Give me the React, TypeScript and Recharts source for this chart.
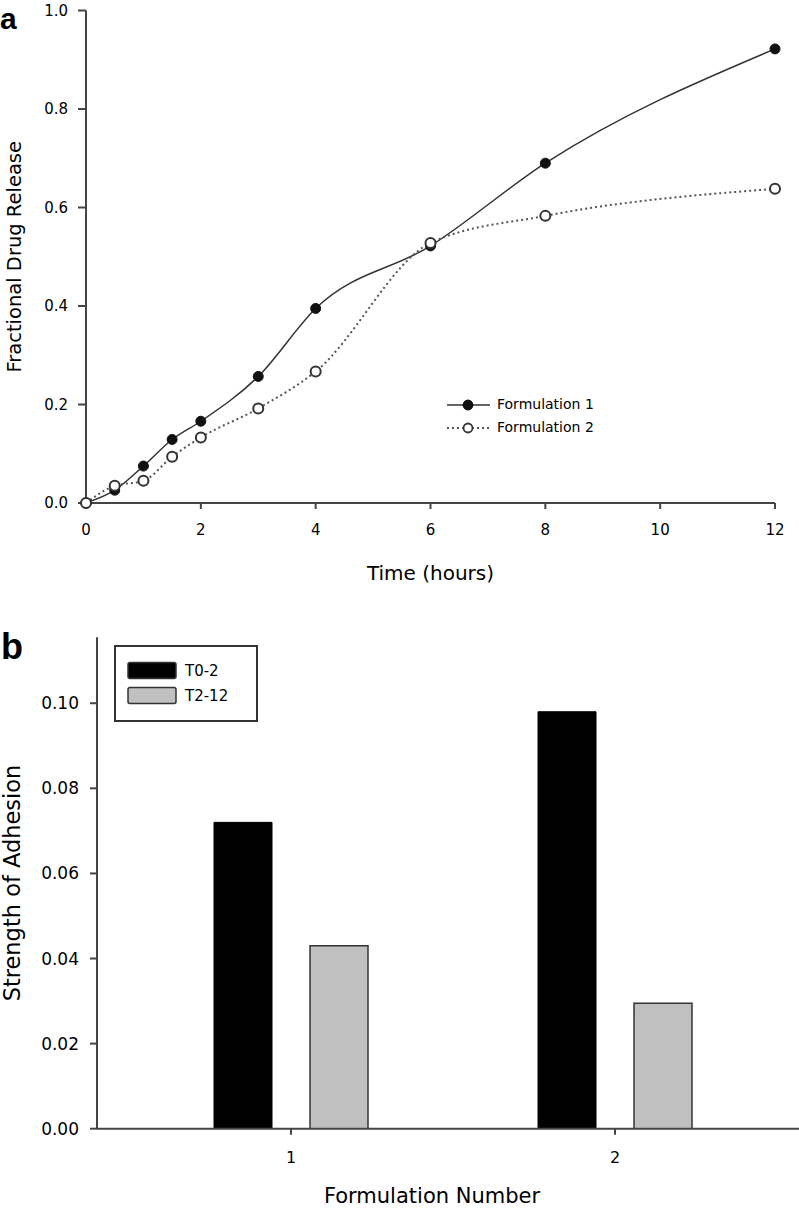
import React from 'react';
import { Bar, BarChart, Label, Legend, Line, LineChart, XAxis, YAxis } from 'recharts';

const FONT = '"DejaVu Sans", Verdana, sans-serif';
const LETTER_FONT = '"Liberation Sans", Arial, sans-serif';
const AXIS = '#444';

// panel a: fractional release vs time
const hours = [0, 0.5, 1, 1.5, 2, 3, 4, 6, 8, 12];
const formulation1 = [0, 0.026, 0.075, 0.129, 0.166, 0.257, 0.395, 0.522, 0.69, 0.922];
const formulation2 = [0, 0.035, 0.045, 0.094, 0.133, 0.192, 0.267, 0.528, 0.583, 0.638];
const releaseSeries = ['Formulation 1', 'Formulation 2'];
const hourTicks = [0, 2, 4, 6, 8, 10, 12];
const releaseTicks = [0, 0.2, 0.4, 0.6, 0.8, 1.0];

// panel b: strength of adhesion per formulation
const formulations = ['1', '2'];
const t02 = [0.072, 0.098];
const t212 = [0.043, 0.0295];
const adhesionSeries = ['T0-2', 'T2-12'];
const adhesionTicks = [0, 0.02, 0.04, 0.06, 0.08, 0.1];

const releaseData = hours.map((t, i) => ({ t, f1: formulation1[i], f2: formulation2[i] }));
const adhesionData = formulations.map((name, i) => ({ name, t02: t02[i], t212: t212[i] }));

function ReleaseLegend() {
  return (
    <svg width={180} height={50}>
      {releaseSeries.map((name, i) => {
        const y = 13 + i * 23;
        return (
          <g key={name}>
            <line
              x1={7}
              x2={50}
              y1={y}
              y2={y}
              stroke={i === 0 ? '#333' : '#555'}
              strokeWidth={i === 0 ? 1.5 : 2}
              strokeDasharray={i === 0 ? undefined : '2 3'}
            />
            <circle
              cx={28}
              cy={y}
              r={4.5}
              fill={i === 0 ? '#111' : '#fff'}
              stroke={i === 0 ? '#111' : '#333'}
              strokeWidth={1.8}
            />
            <text x={57} y={y} dominantBaseline="middle" fontSize={14} fontFamily={FONT} fill="#000">
              {name}
            </text>
          </g>
        );
      })}
    </svg>
  );
}

function AdhesionLegend() {
  return (
    <svg width={145} height={78}>
      <rect x={1} y={1} width={142} height={75} fill="#fff" stroke="#333" strokeWidth={2} />
      {adhesionSeries.map((name, i) => {
        const y = 17.5 + i * 25;
        return (
          <g key={name}>
            <rect
              x={14}
              y={y}
              width={48}
              height={16}
              rx={2}
              fill={i === 0 ? '#000' : '#c0c0c0'}
              stroke="#333"
              strokeWidth={1.5}
            />
            <text x={71} y={y + 8.5} dominantBaseline="middle" fontSize={15} fontFamily={FONT} fill="#000">
              {name}
            </text>
          </g>
        );
      })}
    </svg>
  );
}

const panelLetter: React.CSSProperties = {
  position: 'absolute',
  fontFamily: LETTER_FONT,
  fontWeight: 'bold',
  color: '#000',
  lineHeight: 1,
};

export default function App() {
  return (
    <div style={{ position: 'absolute', left: 0, top: 0, width: 799, height: 1208, background: '#fff', overflow: 'hidden' }}>
      <div style={{ ...panelLetter, left: 0, top: 4, fontSize: 30 }}>a</div>
      <div style={{ ...panelLetter, left: 1, top: 629, fontSize: 36 }}>b</div>

      <div style={{ position: 'absolute', left: 0, top: 0 }}>
        <LineChart width={799} height={600} data={releaseData} margin={{ top: 10.5, right: 24, left: 0, bottom: 0 }}>
          <XAxis
            type="number"
            dataKey="t"
            domain={[0, 12]}
            ticks={hourTicks}
            height={97}
            tickSize={6}
            tickMargin={15}
            axisLine={{ stroke: AXIS, strokeWidth: 2 }}
            tickLine={{ stroke: AXIS, strokeWidth: 2 }}
            tick={{ fill: '#000', fontSize: 15, fontFamily: FONT }}
          >
            <Label value="Time (hours)" position="center" dy={21} fill="#000" fontSize={20} fontFamily={FONT} />
          </XAxis>
          <YAxis
            type="number"
            domain={[0, 1]}
            ticks={releaseTicks}
            width={86}
            tickSize={8}
            tickMargin={10}
            tickFormatter={(v: number) => v.toFixed(1)}
            axisLine={{ stroke: AXIS, strokeWidth: 2 }}
            tickLine={{ stroke: AXIS, strokeWidth: 2 }}
            tick={{ fill: '#000', fontSize: 15, fontFamily: FONT }}
          >
            <Label
              value="Fractional Drug Release"
              position="center"
              angle={-90}
              dx={-29}
              fill="#000"
              fontSize={19.5}
              fontFamily={FONT}
            />
          </YAxis>
          <Legend
            layout="vertical"
            align="center"
            verticalAlign="middle"
            content={() => <ReleaseLegend />}
            wrapperStyle={{ position: 'absolute', left: 440, top: 392, width: 180, height: 50 }}
          />
          <Line
            type="monotone"
            dataKey="f1"
            name={releaseSeries[0]}
            stroke="#333"
            strokeWidth={1.5}
            dot={{ r: 5, fill: '#111', stroke: '#111', strokeWidth: 1 }}
            isAnimationActive={false}
          />
          <Line
            type="monotone"
            dataKey="f2"
            name={releaseSeries[1]}
            stroke="#555"
            strokeWidth={2}
            strokeDasharray="2 3"
            dot={{ r: 5, fill: '#fff', stroke: '#333', strokeWidth: 2, strokeDasharray: '0' }}
            isAnimationActive={false}
          />
        </LineChart>
      </div>

      <div style={{ position: 'absolute', left: 0, top: 600 }}>
        <BarChart
          width={799}
          height={608}
          data={adhesionData}
          margin={{ top: 37.3, right: 0, left: 0, bottom: 0 }}
          barSize={58}
          barGap={38}
        >
          <XAxis
            dataKey="name"
            padding={{ left: 32, right: 22 }}
            height={79.3}
            tickSize={6}
            tickMargin={17}
            axisLine={{ stroke: AXIS, strokeWidth: 2 }}
            tickLine={{ stroke: AXIS, strokeWidth: 2 }}
            tick={{ fill: '#000', fontSize: 16, fontFamily: FONT }}
          >
            <Label value="Formulation Number" position="center" dx={-16} dy={27} fill="#000" fontSize={21} fontFamily={FONT} />
          </XAxis>
          <YAxis
            type="number"
            domain={[0, 0.1155]}
            ticks={adhesionTicks}
            allowDataOverflow
            width={97}
            tickSize={7}
            tickMargin={11}
            tickFormatter={(v: number) => v.toFixed(2)}
            axisLine={{ stroke: AXIS, strokeWidth: 2 }}
            tickLine={{ stroke: AXIS, strokeWidth: 2 }}
            tick={{ fill: '#000', fontSize: 17, fontFamily: FONT }}
          >
            <Label
              value="Strength of Adhesion"
              position="center"
              angle={-90}
              dx={-36}
              fill="#000"
              fontSize={22.5}
              fontFamily={FONT}
            />
          </YAxis>
          <Legend
            layout="vertical"
            align="center"
            verticalAlign="middle"
            content={() => <AdhesionLegend />}
            wrapperStyle={{ position: 'absolute', left: 114, top: 45, width: 145, height: 78 }}
          />
          <Bar dataKey="t02" name={adhesionSeries[0]} fill="#000" stroke="#000" isAnimationActive={false} />
          <Bar
            dataKey="t212"
            name={adhesionSeries[1]}
            fill="#c0c0c0"
            stroke="#333"
            strokeWidth={1.5}
            isAnimationActive={false}
          />
        </BarChart>
      </div>
    </div>
  );
}
